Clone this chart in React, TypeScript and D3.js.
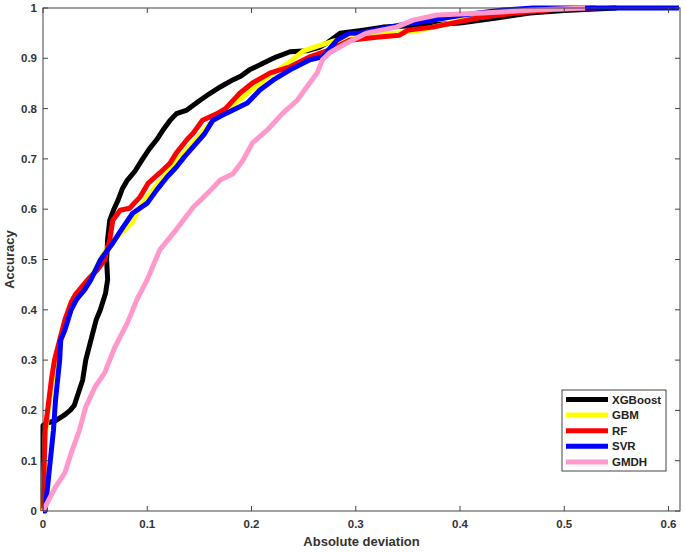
import * as d3 from "d3";
import React from "react";

// values: [absolute deviation, accuracy]
const xgboost: [number, number][] = [
  [0, 0], [0, 0.17], [0.004, 0.175], [0.0125, 0.18], [0.02, 0.19], [0.026, 0.2], [0.03, 0.21],
  [0.034, 0.235], [0.038, 0.26], [0.041, 0.3], [0.046, 0.34], [0.051, 0.38], [0.055, 0.4],
  [0.06, 0.433], [0.062, 0.46], [0.061, 0.5], [0.062, 0.54], [0.064, 0.578], [0.068, 0.6],
  [0.072, 0.618], [0.076, 0.64], [0.081, 0.658], [0.088, 0.675], [0.095, 0.698], [0.102, 0.72],
  [0.109, 0.738], [0.116, 0.76], [0.122, 0.777], [0.128, 0.79], [0.138, 0.797], [0.151, 0.817],
  [0.16, 0.83], [0.17, 0.843], [0.182, 0.857], [0.19, 0.865], [0.198, 0.877], [0.211, 0.89],
  [0.224, 0.903], [0.237, 0.913], [0.253, 0.915], [0.265, 0.922], [0.272, 0.93], [0.285, 0.95],
  [0.307, 0.956], [0.326, 0.962], [0.36, 0.965], [0.4, 0.97], [0.435, 0.98], [0.467, 0.99],
  [0.5, 0.995], [0.55, 1.0]
];
const gbm: [number, number][] = [
  [0, 0], [0.002, 0.15], [0.008, 0.25], [0.015, 0.32], [0.022, 0.38], [0.03, 0.42],
  [0.045, 0.46], [0.055, 0.5], [0.065, 0.535], [0.075, 0.552], [0.085, 0.572], [0.092, 0.6],
  [0.1, 0.625], [0.108, 0.645], [0.118, 0.67], [0.13, 0.7], [0.145, 0.735], [0.16, 0.77],
  [0.175, 0.795], [0.19, 0.82], [0.205, 0.845], [0.22, 0.87], [0.235, 0.89], [0.25, 0.915],
  [0.265, 0.925], [0.28, 0.935], [0.3, 0.94], [0.33, 0.948], [0.36, 0.955], [0.38, 0.965],
  [0.4, 0.975], [0.43, 0.985], [0.46, 0.995], [0.48, 1.0]
];
const rf: [number, number][] = [
  [0, 0], [0.002, 0.16], [0.008, 0.26], [0.011, 0.3], [0.016, 0.34], [0.021, 0.38],
  [0.027, 0.415], [0.031, 0.43], [0.037, 0.445], [0.043, 0.46], [0.052, 0.479], [0.059, 0.499],
  [0.064, 0.539], [0.067, 0.578], [0.074, 0.598], [0.083, 0.602], [0.093, 0.624], [0.101, 0.652],
  [0.112, 0.672], [0.122, 0.692], [0.128, 0.712], [0.138, 0.738], [0.144, 0.751],
  [0.153, 0.777], [0.167, 0.79], [0.175, 0.8], [0.189, 0.831], [0.201, 0.851],
  [0.218, 0.871], [0.237, 0.883], [0.256, 0.903], [0.275, 0.917], [0.294, 0.936],
  [0.32, 0.942], [0.342, 0.946], [0.35, 0.956], [0.374, 0.962], [0.397, 0.972],
  [0.422, 0.982], [0.454, 0.99], [0.49, 0.997], [0.53, 1.0]
];
const svr: [number, number][] = [
  [0, 0], [0.002, 0.0], [0.005, 0.06], [0.01, 0.16], [0.012, 0.22], [0.016, 0.3],
  [0.017, 0.34], [0.021, 0.36], [0.027, 0.4], [0.032, 0.42], [0.04, 0.44], [0.046, 0.46],
  [0.055, 0.499], [0.067, 0.533], [0.077, 0.565], [0.086, 0.592], [0.1, 0.612],
  [0.109, 0.638], [0.119, 0.664], [0.128, 0.684], [0.136, 0.705], [0.144, 0.724],
  [0.155, 0.75], [0.163, 0.777], [0.176, 0.791], [0.196, 0.811], [0.208, 0.837],
  [0.221, 0.857], [0.237, 0.877], [0.256, 0.897], [0.268, 0.903], [0.282, 0.936],
  [0.294, 0.95], [0.304, 0.95], [0.326, 0.96], [0.342, 0.966], [0.374, 0.976],
  [0.403, 0.986], [0.441, 0.996], [0.47, 1.0], [0.61, 1.0]
];
const gmdh: [number, number][] = [
  [0, 0], [0.012, 0.048], [0.021, 0.076], [0.027, 0.115], [0.035, 0.161], [0.041, 0.207],
  [0.05, 0.247], [0.059, 0.274], [0.069, 0.326], [0.081, 0.374], [0.09, 0.42],
  [0.1, 0.46], [0.112, 0.519], [0.128, 0.56], [0.144, 0.604], [0.158, 0.632],
  [0.17, 0.658], [0.182, 0.67], [0.192, 0.698], [0.201, 0.732], [0.215, 0.757],
  [0.23, 0.791], [0.244, 0.817], [0.253, 0.843], [0.263, 0.871], [0.268, 0.897],
  [0.275, 0.911], [0.291, 0.93], [0.31, 0.95], [0.339, 0.962], [0.355, 0.976],
  [0.378, 0.986], [0.422, 0.99], [0.47, 0.996], [0.52, 1.0]
];

const seriesNames = ["XGBoost", "GBM", "RF", "SVR", "GMDH"];
const seriesData = [xgboost, gbm, rf, svr, gmdh];
const seriesColors = ["#000000", "#ffff00", "#ff0000", "#0000ff", "#ff99cc"];

const xTicks = [0, 0.1, 0.2, 0.3, 0.4, 0.5, 0.6];
const yTicks = [0, 0.1, 0.2, 0.3, 0.4, 0.5, 0.6, 0.7, 0.8, 0.9, 1];

const width = 685;
const height = 552;
const margin = { left: 43, right: 5, top: 8, bottom: 41 };

export default function App() {
  const plotW = width - margin.left - margin.right;
  const plotH = height - margin.top - margin.bottom;
  const x = d3.scaleLinear().domain([0, 0.611]).range([0, plotW]);
  const y = d3.scaleLinear().domain([0, 1]).range([plotH, 0]);
  const line = d3.line<[number, number]>().x(d => x(d[0])).y(d => y(d[1]));
  const axisColor = "#444";
  const font = "Arial, 'Liberation Sans', sans-serif";

  return (
    <svg width={width} height={height}
      style={{ position: "absolute", left: 0, top: 0, background: "#fff" }}>
      <defs>
        <clipPath id="plot-clip">
          <rect x={-3} y={-3} width={plotW + 3} height={plotH + 6} />
        </clipPath>
      </defs>
      <g transform={`translate(${margin.left},${margin.top})`}>
        <g clipPath="url(#plot-clip)">
          {seriesData.map((data, i) => (
            <path key={seriesNames[i]} d={line(data) || ""} fill="none"
              stroke={seriesColors[i]} strokeWidth={5} strokeLinejoin="round" />
          ))}
        </g>
        <rect x={0} y={0} width={plotW} height={plotH} fill="none" stroke={axisColor} strokeWidth={1} />
        {xTicks.map(t => (
          <g key={`x${t}`}>
            <line x1={x(t)} x2={x(t)} y1={plotH} y2={plotH - 5} stroke={axisColor} />
            <line x1={x(t)} x2={x(t)} y1={0} y2={5} stroke={axisColor} />
            <text x={x(t)} y={plotH + 17} textAnchor="middle" fontFamily={font}
              fontSize={11.5} fontWeight="bold" fill="#333">{t}</text>
          </g>
        ))}
        {yTicks.map(t => (
          <g key={`y${t}`}>
            <line x1={0} x2={5} y1={y(t)} y2={y(t)} stroke={axisColor} />
            <line x1={plotW} x2={plotW - 5} y1={y(t)} y2={y(t)} stroke={axisColor} />
            <text x={-6} y={y(t) + 4} textAnchor="end" fontFamily={font}
              fontSize={11.5} fontWeight="bold" fill="#333">{t}</text>
          </g>
        ))}
        <text x={plotW / 2} y={plotH + 35} textAnchor="middle" fontFamily={font}
          fontSize={13} fontWeight="bold" fill="#333">Absolute deviation</text>
        <text transform={`translate(${-29},${plotH / 2}) rotate(-90)`} textAnchor="middle"
          fontFamily={font} fontSize={13} fontWeight="bold" fill="#333">Accuracy</text>
        <g transform={`translate(${519},${382})`}>
          <rect x={0} y={0} width={104} height={81} fill="#fff" stroke={axisColor} strokeWidth={1} />
          {seriesNames.map((name, i) => (
            <g key={name} transform={`translate(0,${9.5 + i * 15.6})`}>
              <line x1={4} x2={46} y1={0} y2={0} stroke={seriesColors[i]} strokeWidth={5} />
              <text x={50} y={4} fontFamily={font} fontSize={11.5} fontWeight="bold" fill="#222">{name}</text>
            </g>
          ))}
        </g>
      </g>
    </svg>
  );
}
